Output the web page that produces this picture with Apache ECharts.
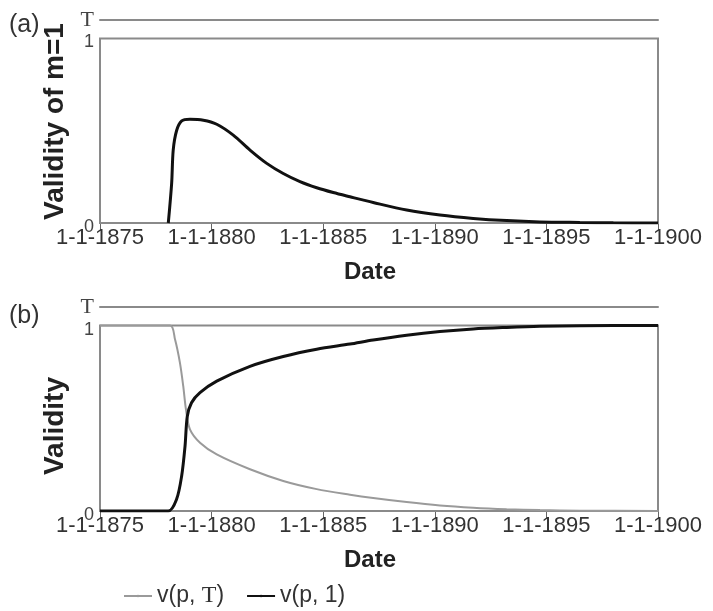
<!DOCTYPE html>
<html>
<head>
<meta charset="utf-8">
<script src="https://cdn.jsdelivr.net/npm/echarts@6/dist/echarts.min.js"></script>
<style>
html,body{margin:0;padding:0;background:#fff;}
#chart{width:713px;height:611px;}
</style>
</head>
<body>
<div id="chart"></div>
<script>
// ---- Data ----
var xTicks = [1875, 1880, 1885, 1890, 1895, 1900];
var yTickValues = [0, 1, 1.1];
var yTickLabels = ['0', '1', 'T'];

// Panel (a): validity of m=1
var aYears  = [1878.06, 1878.21, 1878.28, 1878.43, 1878.66, 1879.03, 1879.63, 1880.23, 1880.97, 1881.72, 1882.47, 1883.21, 1883.96, 1884.71, 1885.45, 1886.2, 1887.24, 1888.74, 1890.23, 1891.72, 1893.22, 1894.71, 1896.5, 1898, 1900];
var aValues = [0, 0.215, 0.395, 0.50, 0.553, 0.562, 0.557, 0.535, 0.476, 0.395, 0.323, 0.268, 0.224, 0.191, 0.165, 0.142, 0.111, 0.07, 0.043, 0.025, 0.013, 0.006, 0.003, 0.001, 0];

// Panel (b): v(p, T)
var bTYears  = [1875, 1878.14, 1878.36, 1878.58, 1878.73, 1878.85, 1879.03, 1879.48, 1880.23, 1881.72, 1883.21, 1884.71, 1886.2, 1887.24, 1888.74, 1890.23, 1891.72, 1893.22, 1894.71, 1896.5, 1900];
var bTValues = [1, 1, 0.926, 0.80, 0.673, 0.548, 0.44, 0.368, 0.305, 0.225, 0.162, 0.118, 0.088, 0.07, 0.048, 0.03, 0.018, 0.01, 0.005, 0.002, 0];

// Panel (b): v(p, 1)
var b1Years  = [1875, 1878.06, 1878.43, 1878.66, 1878.81, 1878.91, 1879.1, 1879.48, 1880.23, 1881.72, 1883.21, 1884.71, 1886.2, 1887.24, 1888.74, 1890.23, 1891.72, 1893.22, 1894.71, 1896.5, 1900];
var b1Values = [0, 0, 0.063, 0.19, 0.35, 0.51, 0.584, 0.638, 0.70, 0.78, 0.833, 0.872, 0.90, 0.922, 0.948, 0.968, 0.982, 0.99, 0.996, 0.999, 1];

var seriesNames = ['v(p, T)', 'v(p, 1)'];
var panelLabels = ['(a)', '(b)'];
var yNames = ['Validity of m=1', 'Validity'];
var xName = 'Date';

function pairs(xs, ys) { return xs.map(function (x, i) { return [x, ys[i]]; }); }

var FRAME = '#8a8a8a';
var FONT = 'Liberation Sans, Arial, sans-serif';
var SERIF = 'Liberation Serif, Times New Roman, serif';

function xAxisBottom(gi) {
  return {
    type: 'value', gridIndex: gi, position: 'bottom',
    min: xTicks[0], max: xTicks[xTicks.length - 1], interval: 5,
    name: xName, nameLocation: 'middle', nameGap: 37,
    nameTextStyle: { fontFamily: FONT, fontSize: 24, fontWeight: 'bold', color: '#222', padding: [0, 18, 0, 0] },
    axisLine: { show: true, lineStyle: { color: FRAME, width: 2 } },
    axisTick: { show: true, length: 7, lineStyle: { color: '#666', width: 1 } },
    axisLabel: { fontFamily: FONT, fontSize: 22, color: '#333', margin: 4,
      formatter: function (v) { return '1-1-' + v; } },
    splitLine: { show: false }
  };
}
function xAxisTop(gi) {
  return {
    type: 'value', gridIndex: gi, position: 'top',
    min: xTicks[0], max: xTicks[xTicks.length - 1],
    axisLine: { show: true, lineStyle: { color: FRAME, width: 2 } },
    axisTick: { show: false }, axisLabel: { show: false }, splitLine: { show: false }
  };
}
function yAxis(gi, name, pad) {
  return {
    type: 'value', gridIndex: gi, min: 0, max: 1.1,
    name: name, nameLocation: 'middle', nameGap: 25, nameRotate: 90,
    nameTextStyle: { fontFamily: FONT, fontSize: 28, fontWeight: 'bold', color: '#222', padding: pad },
    axisLine: { show: false }, axisTick: { show: false }, splitLine: { show: false },
    axisLabel: {
      customValues: yTickValues, margin: 6,
      formatter: function (v) {
        var i = yTickValues.indexOf(v);
        var t = i >= 0 ? yTickLabels[i] : '';
        return t === 'T' ? '{t|T}' : '{n|' + t + '}';
      },
      rich: {
        t: { fontFamily: SERIF, fontSize: 22, color: '#444' },
        n: { fontFamily: FONT, fontSize: 18, color: '#444', padding: [8, 0, 0, 0] }
      }
    }
  };
}
function frameArea() {
  return {
    silent: true,
    itemStyle: { color: 'rgba(0,0,0,0)', borderColor: FRAME, borderWidth: 2 },
    data: [[{ coord: [xTicks[0], 0] }, { coord: [xTicks[xTicks.length - 1], 1] }]]
  };
}

var option = {
  backgroundColor: '#fff',
  animation: false,
  title: [
    { text: panelLabels[0], left: 4, top: 8, textStyle: { fontFamily: FONT, fontSize: 25, fontWeight: 'normal', color: '#333' } },
    { text: panelLabels[1], left: 4, top: 299, textStyle: { fontFamily: FONT, fontSize: 25, fontWeight: 'normal', color: '#333' } }
  ],
  grid: [
    { left: 100, right: 55, top: 20, bottom: 388 },
    { left: 100, right: 55, top: 307, bottom: 100 }
  ],
  xAxis: [xAxisBottom(0), xAxisTop(0), xAxisBottom(1), xAxisTop(1)],
  yAxis: [yAxis(0, yNames[0], [0, 0, 0, 0]), yAxis(1, yNames[1], [0, 34, 0, 0])],
  legend: {
    data: seriesNames, left: 118, top: 579,
    itemWidth: 28, itemHeight: 3, itemGap: 22,
    textStyle: { fontFamily: FONT, fontSize: 23, color: '#333',
      rich: { s: { fontFamily: SERIF, fontSize: 24, color: '#333' } } },
    formatter: function (n) { return n.replace('T', '{s|T}'); }
  },
  series: [
    {
      name: yNames[0], type: 'line', xAxisIndex: 0, yAxisIndex: 0,
      data: pairs(aYears, aValues), symbol: 'none', smooth: 0.3,
      lineStyle: { color: '#111', width: 3 }, itemStyle: { color: '#111' },
      markArea: frameArea(), z: 3
    },
    {
      name: seriesNames[0], type: 'line', xAxisIndex: 2, yAxisIndex: 1,
      data: pairs(bTYears, bTValues), symbol: 'none', smooth: 0.3,
      lineStyle: { color: '#9a9a9a', width: 2 }, itemStyle: { color: '#9a9a9a' },
      markArea: frameArea(), z: 3
    },
    {
      name: seriesNames[1], type: 'line', xAxisIndex: 2, yAxisIndex: 1,
      data: pairs(b1Years, b1Values), symbol: 'none', smooth: 0.3,
      lineStyle: { color: '#111', width: 3 }, itemStyle: { color: '#111' }, z: 4
    }
  ]
};

var chart = echarts.init(document.getElementById('chart'), null, { renderer: 'canvas' });
chart.setOption(option);
</script>
</body>
</html>
